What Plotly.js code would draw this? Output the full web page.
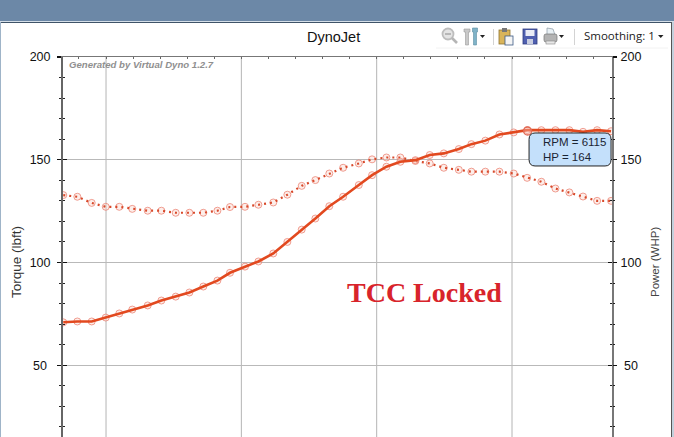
<!DOCTYPE html>
<html><head><meta charset="utf-8">
<script src="https://cdn.plot.ly/plotly-3.0.1.min.js"></script>
<style>
html,body{margin:0;padding:0;width:674px;height:437px;overflow:hidden;background:#fff}
#bar{position:absolute;left:0;top:0;width:674px;height:21px;background:#6c88a7;border-bottom:1px solid #d5dfe8;box-shadow:0 1px 0 #3f5468}
#edgeL{position:absolute;left:0;top:22px;width:1px;height:415px;background:#9fb4c8}
#edgeR{position:absolute;left:671px;top:22px;width:1px;height:415px;background:#555}
#edgeR2{position:absolute;left:672px;top:22px;width:2px;height:415px;background:#c3d0dc}
#plot{position:absolute;left:0;top:0;width:674px;height:500px}
#tools{position:absolute;left:434px;top:24px}
</style></head><body>
<div id="bar"></div><div id="edgeL"></div><div id="edgeR"></div><div id="edgeR2"></div>
<div id="plot"></div>
<svg id="tools" width="236" height="26" viewBox="0 0 236 26">
 <line x1="2" y1="24" x2="234" y2="24" stroke="#f2f2f2"/>
 <circle cx="14" cy="10" r="5.500" fill="#e4e4e4" stroke="#bdbdbd" stroke-width="1.800"/>
 <line x1="11" y1="10" x2="17" y2="10" stroke="#a8a8a8" stroke-width="1.500"/>
 <line x1="18" y1="14" x2="23" y2="19" stroke="#b5b5b5" stroke-width="2.600"/>
 <path d="M30 5h6v3h-1.500v13h-3V8H30z" fill="#c9c9c9" stroke="#9a9a9a" stroke-width=".6"/>
 <path d="M38.500 4h5v4h-1v13h-3V8h-1z" fill="#7fb3c8" stroke="#5e8ea3" stroke-width=".6"/>
 <path d="M46 11h5l-2.500 3z" fill="#222"/>
 <line x1="59.500" y1="5" x2="59.500" y2="21" stroke="#d3d3d3"/>
 <rect x="65" y="6" width="11" height="14" fill="#d9b45a" stroke="#8f7430" stroke-width=".8"/>
 <rect x="68" y="4" width="5" height="4" fill="#777"/>
 <rect x="71" y="12" width="8" height="9" fill="#f4f4f4" stroke="#3d5a86" stroke-width=".8"/>
 <rect x="89" y="5" width="14" height="15" fill="#4f5fb0" stroke="#2f3c80" stroke-width=".8"/>
 <rect x="91.500" y="6" width="9" height="6" fill="#e9ecf6"/>
 <rect x="93" y="15" width="6" height="5" fill="#c9cee0"/>
 <path d="M113 4l6 1 2 6h-8z" fill="#e9f0f4" stroke="#8a98a3" stroke-width=".7"/>
 <rect x="110" y="10" width="13" height="8" rx="2" fill="#b3b3b3" stroke="#777" stroke-width=".7"/>
 <rect x="112" y="17" width="9" height="3" fill="#e7e7e7" stroke="#888" stroke-width=".6"/>
 <path d="M125 11h5l-2.500 3z" fill="#222"/>
 <line x1="140.500" y1="5" x2="140.500" y2="21" stroke="#d3d3d3"/>
 <path d="M224 11h5.500l-2.750 3z" fill="#222"/>
</svg>
<script>
var rpm = [2684,2788,2894,2998,3098,3194,3308,3409,3515,3616,3719,3823,3916,4027,4126,4236,4340,4446,4547,4650,
           4752,4868,4966,5072,5175,5286,5392,5496,5607,5700,5803,5907,6013,6112,6217,6321,6424,6525,6629,6732];
var torque = [132.8,132,129,127.1,127.1,126.1,125.2,125.2,124.2,124.2,124.2,125.2,127,127.1,128.1,129.2,133,137.3,140.1,143.3,
              146.1,148.2,150.2,151.1,151.1,149.4,148.2,146.1,145.1,144.2,144.2,144.2,143.3,141.2,139.3,136,134.1,132.1,130,130];
var power = [70.9,71.3,71.3,73.2,75.2,77.1,79.1,81.5,83.4,85.4,88.3,91.2,95,98,100.5,104.4,110,116,121.4,127.4,
             132,137.7,142.5,146.6,149,149.8,152.3,153.1,155.2,157.6,159.3,162.3,163.3,164.4,164.4,164.4,164.4,163.6,164.4,163.9];
var yTicks = [0,50,100,150,200];
var yLabels = ['', '\u00A050\u00A0', '100', '150', '200'];
var yMinor = [10,20,30,40,60,70,80,90,110,120,130,140,160,170,180,190];
var xTicks = [3000,4000,5000,6000];
var xMinor = [2800,3000,3200,3400,3600,3800,4000,4200,4400,4600,4800,5000,5200,5400,5600,5800,6000,6200,6400,6600];
var hoverRpm = 6115, hoverHp = 164;
var title = 'DynoJet', credit = 'Generated by Virtual Dyno 1.2.7', note = 'TCC Locked', smoothing = 'Smoothing: 1';

var lineCol = '#e2491f', dotCol = '#d8492a', ringCol = 'rgba(236,135,120,0.8)', ringFill = 'rgba(250,205,195,0.35)';
var L = 63, R = 612, T = 57, B = 468, W = 674, H = 500;
var xRange = [2682, 6739];
function px(x){return (x-L)/(R-L);} function py(y){return (B-y)/(B-T);}

var rings = {mode:'markers', marker:{symbol:'circle', size:7, color:ringFill, line:{color:ringCol, width:1}}};
var traces = [
 Object.assign({x:rpm, y:torque, type:'scatter', showlegend:false, hoverinfo:'skip'}, rings),
 {x:rpm, y:torque, type:'scatter', mode:'lines', line:{color:dotCol, width:2.2, dash:'2px,4px'}, hoverinfo:'skip', showlegend:false},
 Object.assign({x:rpm, y:power, type:'scatter', showlegend:false, hoverinfo:'skip'}, rings),
 {x:rpm, y:power, type:'scatter', mode:'lines', line:{color:lineCol, width:2.6}, hoverinfo:'skip', showlegend:false},
 {x:[hoverRpm], y:[hoverHp], type:'scatter', mode:'markers', marker:{size:8, color:'rgba(250,190,180,0.4)', line:{color:'#e06a55',width:1.3}}, hoverinfo:'skip', showlegend:false},
 {x:xRange, y:[0,0], yaxis:'y2', type:'scatter', mode:'none', hoverinfo:'skip', showlegend:false},
 {x:xRange, y:[0,0], yaxis:'y3', type:'scatter', mode:'none', hoverinfo:'skip', showlegend:false},
 {x:xRange, y:[0,0], yaxis:'y4', type:'scatter', mode:'none', hoverinfo:'skip', showlegend:false}
];
var tickfont = {family:'"Liberation Sans",Arial,sans-serif', size:12.5, color:'#111'};
var bubble = 'M -35 -16.5 H 35 Q 41 -16.5 41 -10 V 10 Q 41 16.5 35 16.5 H -35 Q -41 16.5 -41 10 V -10 Q -41 -16.5 -35 -16.5 Z';
function minor(dir){return {tickmode:'array', tickvals:yMinor, ticks:dir, ticklen:2, tickcolor:'#222', tickwidth:1, showgrid:false};}
var layout = {
 width:W, height:H, autosize:false, paper_bgcolor:'rgba(0,0,0,0)', plot_bgcolor:'rgba(0,0,0,0)',
 margin:{l:L, r:W-R, t:T, b:H-B, pad:0},
 showlegend:false,
 xaxis:{range:xRange, side:'top', tickmode:'array', tickvals:xMinor,
   ticks:'inside', ticklen:2, tickwidth:1, tickcolor:'#666', showticklabels:false, showgrid:false, zeroline:false,
   showline:true, linecolor:'#777', linewidth:1},
 yaxis:{range:[0,200], side:'left', tickmode:'array', tickvals:yTicks, ticktext:yLabels, ticks:'outside', ticklen:4, tickwidth:1.2, tickcolor:'#111',
   tickfont:tickfont, ticklabelstandoff:4, gridcolor:'#b9b9b9', gridwidth:1, zeroline:false, showline:true, linecolor:'#666', linewidth:2, minor:minor('outside')},
 yaxis2:{range:[0,200], overlaying:'y', side:'right', tickmode:'array', tickvals:yTicks, ticktext:yLabels, ticks:'inside', ticklen:4, tickwidth:1.2, tickcolor:'#111',
   tickfont:tickfont, ticklabelstandoff:4, showgrid:false, zeroline:false, showline:true, linecolor:'#777', linewidth:2, minor:minor('inside')},
 yaxis3:{range:[0,200], overlaying:'y', side:'left', tickmode:'array', tickvals:yTicks, ticks:'inside', ticklen:4, tickwidth:1.2, tickcolor:'#111', showticklabels:false, showgrid:false, zeroline:false, minor:minor('inside')},
 yaxis4:{range:[0,200], overlaying:'y', side:'right', tickmode:'array', tickvals:yTicks, ticks:'outside', ticklen:4, tickwidth:1.2, tickcolor:'#111', showticklabels:false, showgrid:false, zeroline:false, minor:minor('outside')},
 shapes: xTicks.map(function(v){return {type:'line', xref:'x', yref:'paper', x0:v, x1:v, y0:0, y1:1, layer:'below', line:{color:'#b4b4b4', width:1}};}).concat([
   {type:'path', xref:'x', yref:'y', xsizemode:'pixel', ysizemode:'pixel', xanchor:hoverRpm+314, yanchor:hoverHp-9, path:bubble, fillcolor:'#c4e0fb', line:{color:'#222', width:1}, layer:'above'}
 ]),
 annotations:[
  {xref:'paper', yref:'paper', x:px(333.5), y:py(37), text:title, showarrow:false, xanchor:'center', yanchor:'middle', font:{family:'"Liberation Sans",Arial,sans-serif', size:14.5, color:'#111'}},
  {xref:'paper', yref:'paper', x:px(68), y:py(65), text:'<b><i>'+credit+'</i></b>', showarrow:false, xanchor:'left', yanchor:'middle', xshift:-1, font:{family:'"Liberation Sans",Arial,sans-serif', size:9.6, color:'#8f8f8f'}},
  {xref:'paper', yref:'paper', x:px(16), y:py(262), text:'Torque (lbft)', textangle:-90, showarrow:false, xanchor:'center', yanchor:'middle', font:{family:'"Liberation Sans",Arial,sans-serif', size:13.5, color:'#333'}},
  {xref:'paper', yref:'paper', x:px(655), y:py(262), text:'Power (WHP)', textangle:-90, showarrow:false, xanchor:'center', yanchor:'middle', font:{family:'"Liberation Sans",Arial,sans-serif', size:11.5, color:'#444'}},
  {xref:'x', yref:'y', x:5355, y:85.3, text:'<b>'+note+'</b>', showarrow:false, xanchor:'center', yanchor:'middle', font:{family:'"Liberation Serif","Times New Roman",serif', size:28, color:'#d8242b'}},
  {xref:'paper', yref:'paper', x:px(541), y:py(149.5), text:'RPM = '+hoverRpm+'<br>HP = '+hoverHp, showarrow:false, xanchor:'left', yanchor:'middle', align:'left', font:{family:'"Liberation Sans",Arial,sans-serif', size:11.5, color:'#1a2433'}},
  {xref:'paper', yref:'paper', x:px(582), y:py(36), text:smoothing, showarrow:false, xanchor:'left', yanchor:'middle', font:{family:'"Open Sans","Noto Sans",sans-serif', size:11.5, color:'#222'}}
 ]
};
Plotly.newPlot('plot', traces, layout, {displayModeBar:false, staticPlot:true});
</script>
</body></html>
